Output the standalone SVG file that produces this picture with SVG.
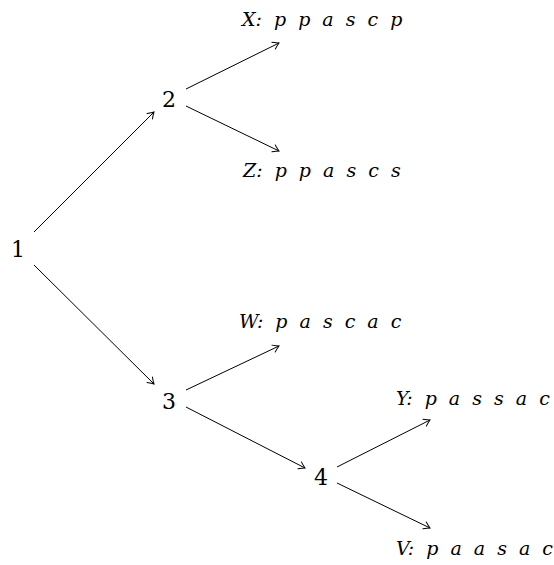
<svg xmlns="http://www.w3.org/2000/svg" width="554" height="565" viewBox="0 0 554 565">
<style>
text{fill:#000}
.n{font-family:'DejaVu Serif',serif;font-size:22px;text-anchor:middle}
.l{font-family:'DejaVu Serif',serif;font-size:19px;font-style:italic;word-spacing:6px}
.e{stroke:#000;stroke-width:1;fill:none;marker-end:url(#a)}
</style>
<defs>
<marker id="a" markerUnits="userSpaceOnUse" viewBox="-8 -5 10 10" refX="0" refY="0" markerWidth="10" markerHeight="10" orient="auto">
<path d="M-6,-3.8 Q-2,-1 0,0 Q-2,1 -6,3.8" stroke="#000" stroke-width="1" fill="none" stroke-linecap="round"/>
</marker>
</defs>
<rect width="554" height="565" fill="#fff"/>
<g id="connectors">
<line class="e" x1="34" y1="232" x2="154" y2="112"/>
<line class="e" x1="34" y1="265" x2="154" y2="384"/>
<line class="e" x1="186" y1="89" x2="279" y2="43"/>
<line class="e" x1="186" y1="106" x2="279" y2="151"/>
<line class="e" x1="186" y1="390" x2="279" y2="346"/>
<line class="e" x1="186" y1="407" x2="305" y2="468"/>
<line class="e" x1="337" y1="467" x2="430" y2="420"/>
<line class="e" x1="337" y1="483" x2="430" y2="528"/>
</g>
<g id="node1"><text class="n" x="18" y="257">1</text></g>
<g id="node2"><text class="n" x="169" y="107">2</text></g>
<g id="node3"><text class="n" x="169" y="409">3</text></g>
<g id="node4"><text class="n" x="321" y="485">4</text></g>
<g id="leafX"><text class="l" x="242" y="26">X: p p a s c p</text></g>
<g id="leafZ"><text class="l" x="243" y="177">Z: p p a s c s</text></g>
<g id="leafW"><text class="l" x="239" y="328">W: p a s c a c</text></g>
<g id="leafY"><text class="l" x="396" y="405">Y: p a s s a c</text></g>
<g id="leafV"><text class="l" x="396" y="555">V: p a a s a c</text></g>
</svg>
